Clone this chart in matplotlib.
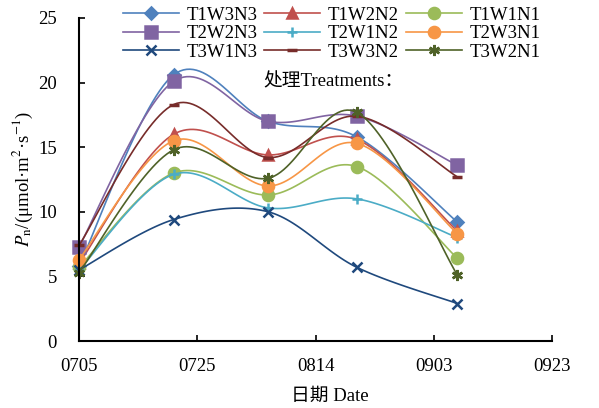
import numpy as np
import matplotlib.pyplot as plt

plt.rcParams['font.family'] = ['Liberation Serif', 'Noto Sans CJK SC']
plt.rcParams['mathtext.fontset'] = 'stix'

# days since 07-05
days = [0, 16, 32, 47, 64]
tick_days = [0, 20, 40, 60, 80]
tick_labels = ['0705', '0725', '0814', '0903', '0923']

names = ['T1W3N3', 'T1W2N2', 'T1W1N1',
         'T2W2N3', 'T2W1N2', 'T2W3N1',
         'T3W1N3', 'T3W3N2', 'T3W2N1']
t1w3n3 = [5.8, 20.6, 17.0, 15.8, 9.2]
t1w2n2 = [6.0, 16.0, 14.4, 15.6, 8.5]
t1w1n1 = [5.7, 13.0, 11.3, 13.5, 6.4]
t2w2n3 = [7.3, 20.1, 17.0, 17.4, 13.6]
t2w1n2 = [5.5, 12.9, 10.3, 11.0, 8.0]
t2w3n1 = [6.3, 15.5, 12.0, 15.3, 8.3]
t3w1n3 = [5.5, 9.4, 10.0, 5.7, 2.9]
t3w3n2 = [7.4, 18.3, 14.2, 17.4, 12.7]
t3w2n1 = [5.3, 14.8, 12.6, 17.7, 5.1]
series = [t1w3n3, t1w2n2, t1w1n1, t2w2n3, t2w1n2, t2w3n1, t3w1n3, t3w3n2, t3w2n1]

colors = ['#4F81BD', '#C0504D', '#9BBB59', '#8064A2', '#4BACC6', '#F79646',
          '#1F497D', '#772C2A', '#4F6228']
markers = ['D', '^', 'o', 's', '+', 'o', 'x', '_', (6, 2, 0)]
msizes = [6, 7, 8, 8, 7, 8, 7, 7, 8]


def smooth(x, y, n=30):
    # Excel-like smoothed line (Catmull-Rom Bezier)
    x = np.asarray(x, float)
    y = np.asarray(y, float)
    px = np.concatenate([[x[0]], x, [x[-1]]])
    py = np.concatenate([[y[0]], y, [y[-1]]])
    xs, ys = [], []
    t = np.linspace(0, 1, n)
    for i in range(1, len(px) - 2):
        p0 = np.array([px[i], py[i]])
        p3 = np.array([px[i + 1], py[i + 1]])
        c1 = p0 + (np.array([px[i + 1], py[i + 1]]) - np.array([px[i - 1], py[i - 1]])) / 6
        c2 = p3 - (np.array([px[i + 2], py[i + 2]]) - np.array([px[i], py[i]])) / 6
        b = ((1 - t) ** 3)[:, None] * p0 + (3 * (1 - t) ** 2 * t)[:, None] * c1 \
            + (3 * (1 - t) * t ** 2)[:, None] * c2 + (t ** 3)[:, None] * p3
        xs.extend(b[:, 0])
        ys.extend(b[:, 1])
    return xs, ys


fig = plt.figure(figsize=(5.99, 4.08), dpi=100)
ax = fig.add_axes([79 / 599, 67 / 408, 473 / 599, 323 / 408])

handles = []
for vals, name, c, m, ms in zip(series, names, colors, markers, msizes):
    sx, sy = smooth(days, vals)
    ax.plot(sx, sy, color=c, lw=1.2)
    mew = 2.5 if m == '_' else 1.8
    ax.plot(days, vals, ls='none', marker=m, color=c, ms=ms, mew=mew, clip_on=False)
    h, = ax.plot([], [], color=c, lw=1.2, marker=m, ms=ms, mew=mew)
    handles.append(h)

ax.set_xlim(0, 80)
ax.set_ylim(0, 25)
ax.set_xticks(tick_days)
ax.set_xticklabels(tick_labels)
ax.set_yticks([0, 5, 10, 15, 20, 25])
ax.tick_params(direction='in', labelsize=13.5, length=4, width=1.2, pad=12)
ax.tick_params(axis='y', pad=16)
for s in ['top', 'right']:
    ax.spines[s].set_visible(False)
for s in ['left', 'bottom']:
    ax.spines[s].set_linewidth(1.5)

ax.set_xlabel('日期 Date', fontsize=13.5)
ax.xaxis.set_label_coords(0.53, -0.145)
ax.set_ylabel(r'$P_\mathrm{n}$/(μmol·m$^{2}$·s$^{-1}$)', fontsize=13.5, labelpad=2)
ax.text(263, 408 - 82, '处理Treatments：', transform=None, fontsize=13.5, va='center')

# legend is filled row by row in the reference
order = [0, 3, 6, 1, 4, 7, 2, 5, 8]
fig.legend([handles[i] for i in order], [names[i] for i in order], ncol=3,
           loc='upper left', bbox_to_anchor=(106 / 599, 1.025),
           frameon=False, fontsize=13.5, handlelength=3.0, columnspacing=0.35,
           labelspacing=0.08, handletextpad=0.4)

fig.savefig('out.png', dpi=100)
